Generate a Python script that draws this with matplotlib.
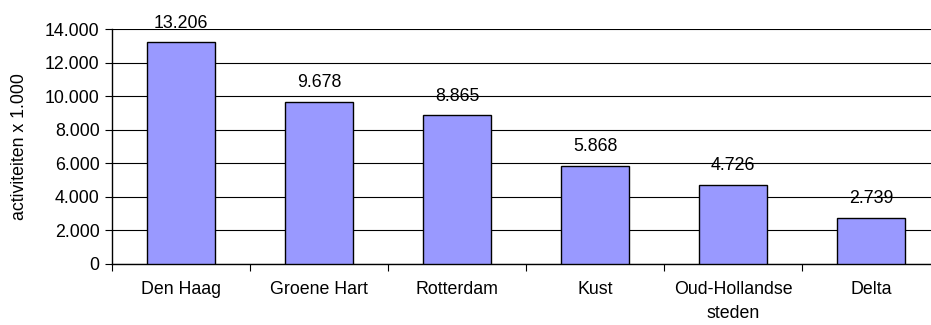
import matplotlib.pyplot as plt
import numpy as np
from matplotlib.ticker import FuncFormatter, FixedLocator

regios = ['Den Haag', 'Groene Hart', 'Rotterdam', 'Kust', 'Oud-Hollandse\nsteden', 'Delta']
activiteiten = [13206, 9678, 8865, 5868, 4726, 2739]

plt.rcParams['font.family'] = ['Liberation Sans', 'DejaVu Sans']
fs = 12.8

fig = plt.figure(figsize=(9.31, 3.25), dpi=100)
ax = fig.add_axes([112 / 931, 61 / 325, 828 / 931, 235 / 325])

x = np.arange(len(regios))
bars = ax.bar(x, activiteiten, width=0.49, color='#9999FF', edgecolor='black', linewidth=1.0, zorder=3)

# Dutch number formatting: dot as thousands separator
def nl(v, pos=None):
    return f'{int(round(v)):,}'.replace(',', '.')

for xi, v in zip(x, activiteiten):
    ax.annotate(nl(v), xy=(xi, v), xytext=(0, 10.5), textcoords='offset points',
                ha='center', va='baseline', fontsize=fs)

ax.set_xlim(-0.5, len(regios) - 0.5)
ax.set_ylim(0, 14000)
ax.set_yticks(np.arange(0, 14001, 2000))
ax.yaxis.set_major_formatter(FuncFormatter(nl))
ax.yaxis.grid(True, color='black', linewidth=0.8, zorder=0)
ax.set_axisbelow(True)

# category names centred, tick marks on the boundaries between categories
ax.xaxis.set_major_locator(FixedLocator(np.arange(-0.5, len(regios), 1)))
ax.set_xticklabels([])
ax.xaxis.set_minor_locator(FixedLocator(x))
ax.set_xticklabels(regios, minor=True, fontsize=fs, linespacing=1.55)
ax.tick_params(axis='x', which='minor', length=0, pad=12)
ax.tick_params(axis='x', which='major', length=5, width=0.8, direction='out')
ax.tick_params(axis='y', length=5, width=0.8, labelsize=fs, pad=4)

ax.spines['top'].set_visible(False)
ax.spines['right'].set_visible(False)
ax.spines['left'].set_linewidth(1.0)
ax.spines['bottom'].set_linewidth(1.0)

ax.set_ylabel('activiteiten x 1.000', fontsize=fs, labelpad=12)

fig.savefig('out.png', dpi=100)
